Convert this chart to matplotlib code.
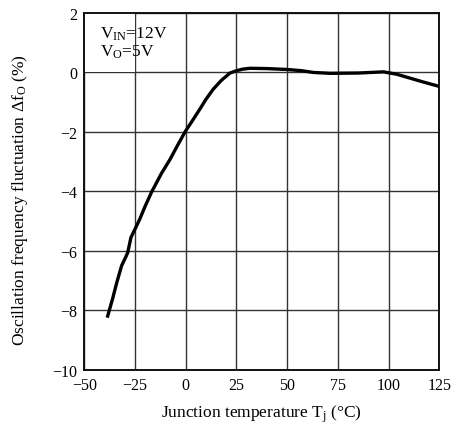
import matplotlib
matplotlib.use("Agg")
import matplotlib.pyplot as plt
from matplotlib.patches import Rectangle

plt.rcParams['font.family'] = ['Liberation Serif', 'DejaVu Serif']
plt.rcParams['mathtext.fontset'] = 'custom'
plt.rcParams['mathtext.rm'] = 'Liberation Serif'
plt.rcParams['mathtext.it'] = 'Liberation Serif:italic'

temperature = [-38.7, -36.0, -34.0, -31.6, -29.5, -28.6, -27.0, -25.0, -22.7, -20.0, -16.8,
               -12.0, -7.7, -4.0, -0.35, 3.5, 7.0, 10.0, 13.6, 17.5, 21.8, 25.1, 28.0,
               31.7, 40.0, 50.0, 57.0, 62.9, 71.2, 85.0, 97.5, 104.0, 110.0, 117.0, 125.0]
fluctuation = [-8.25, -7.6, -7.07, -6.5, -6.2, -6.06, -5.55, -5.27, -4.94, -4.5, -4.02,
               -3.4, -2.92, -2.45, -2.0, -1.6, -1.23, -0.9, -0.56, -0.27, -0.02, 0.06, 0.11,
               0.14, 0.13, 0.1, 0.06, 0.0, -0.03, -0.02, 0.02, -0.06, -0.18, -0.32, -0.47]
xticks = [-50, -25, 0, 25, 50, 75, 100, 125]
yticks = [2, 0, -2, -4, -6, -8, -10]

fig = plt.figure(figsize=(4.58, 4.27), dpi=100)
ax = fig.add_axes([84.3/458, 1-370.7/427, (439.3-84.3)/458, (370.7-14)/427])
ax.set_xlim(-50, 125)
ax.set_ylim(-10, 2)
ax.set_xticks(xticks)
ax.set_yticks(yticks)
ax.set_xticklabels([str(t).replace('-', '\u2212') for t in xticks])
ax.set_yticklabels([str(t).replace('-', '\u2212') for t in yticks])
ax.tick_params(length=0, labelsize=11.5, pad=5)
ax.grid(True, color='#333333', linewidth=1.0)
for s in ax.spines.values():
    s.set_linewidth(1.4)
    s.set_color('#111111')
ax.add_patch(Rectangle((-50, 0), 25, 2, facecolor='white', edgecolor='none', zorder=2))
ax.text(-42.5, 1.6, r'V$_{\mathrm{IN}}$=12V' + '\n' + r'V$_{\mathrm{O}}$=5V', fontsize=12.5,
        va='top', ha='left', zorder=3, linespacing=1.05)
ax.plot(temperature, fluctuation, color='black', linewidth=2.4, zorder=4,
        solid_capstyle='butt', solid_joinstyle='round')
ax.set_xlabel(r'Junction temperature T$_{\mathrm{j}}$ (°C)', fontsize=12.5)
ax.set_ylabel(r'Oscillation frequency fluctuation $\Delta$f$_{\mathrm{O}}$ (%)', fontsize=12.5)
ax.xaxis.set_label_coords(0.498, -0.093)
ax.yaxis.set_label_coords(-0.152, 0.478)
fig.savefig('out.png', dpi=100)
